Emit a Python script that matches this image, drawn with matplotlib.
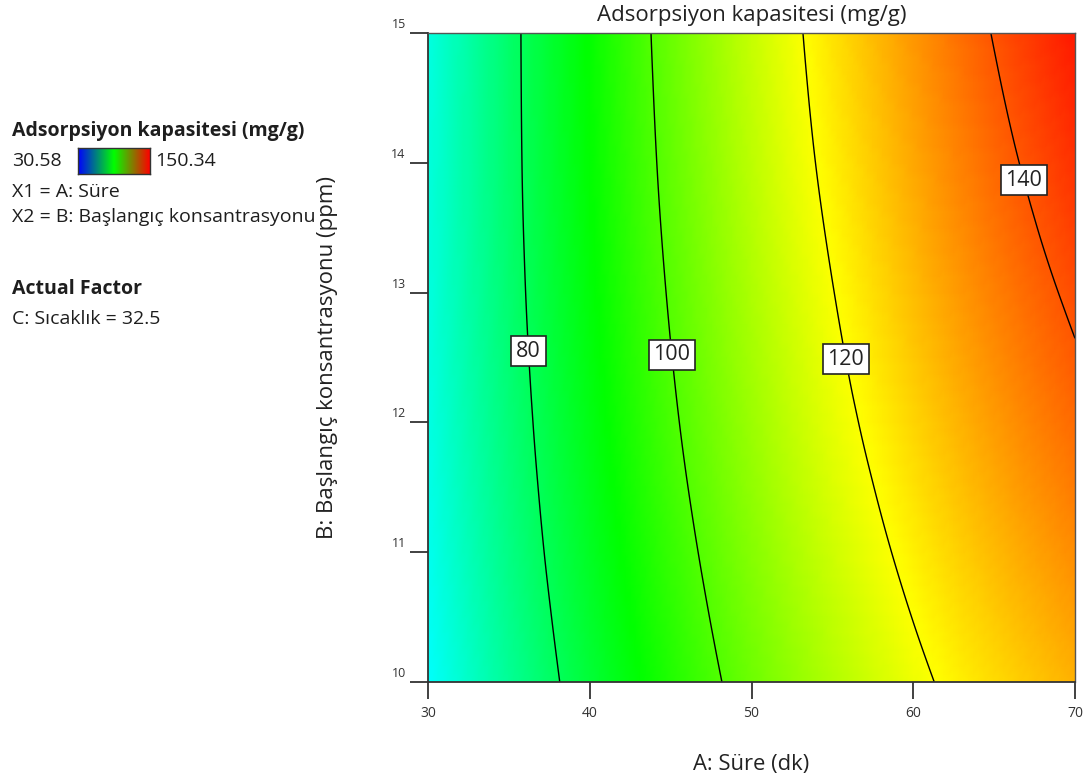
import numpy as np
import matplotlib
matplotlib.use("Agg")
import matplotlib.pyplot as plt
import matplotlib.tri as mtri
from matplotlib.colors import LinearSegmentedColormap
from matplotlib.transforms import ScaledTranslation

plt.rcParams['font.family'] = ['Open Sans', 'DejaVu Sans']

# ---------------- data ----------------
time_min = [30, 35, 40, 45, 50, 55, 60, 65, 70]          # A: Süre (dk)
conc_ppm = [10, 11, 12, 13, 14, 15]                      # B: Başlangıç konsantrasyonu (ppm)
# Adsorpsiyon kapasitesi (mg/g) estimated on the grid, one row per B level
q_b10 = [60.9, 72.9, 84.0, 94.1, 103.2, 111.2, 118.3, 124.4, 129.4]
q_b11 = [62.5, 74.9, 86.3, 96.7, 106.1, 114.5, 121.9, 128.3, 133.7]
q_b12 = [63.6, 76.4, 88.1, 98.9, 108.6, 117.4, 125.1, 131.9, 137.7]
q_b13 = [64.3, 77.4, 89.5, 100.6, 110.7, 119.8, 128.0, 135.1, 141.2]
q_b14 = [64.4, 77.9, 90.4, 101.9, 112.4, 121.9, 130.4, 137.9, 144.4]
q_b15 = [64.1, 78.0, 90.9, 102.8, 113.6, 123.5, 132.4, 140.3, 147.2]
contour_levels = [80, 100, 120, 140]
x_ticks = [30, 40, 50, 60, 70]
y_ticks = [10, 11, 12, 13, 14, 15]
q_min, q_max = 30.58, 150.34

title = "Adsorpsiyon kapasitesi (mg/g)"
xlabel = "A: Süre (dk)"
ylabel = "B: Başlangıç konsantrasyonu (ppm)"

# ---------------- figure ----------------
W, H = 1086, 783
fig = plt.figure(figsize=(W / 100, H / 100), dpi=100)
ax = fig.add_axes([428 / W, 1 - 682 / H, 647 / W, 649 / H])

Z = np.array([q_b10, q_b11, q_b12, q_b13, q_b14, q_b15])
X, Y = np.meshgrid(time_min, conc_ppm)
nx, ny = len(time_min), len(conc_ppm)
tris = []
for j in range(ny - 1):
    for i in range(nx - 1):
        a = j * nx + i
        b = a + 1
        c = a + nx
        d = c + 1
        tris += [[a, b, d], [a, d, c]]
x0, xs = min(time_min), max(time_min) - min(time_min)
y0, ys = min(conc_ppm), max(conc_ppm) - min(conc_ppm)
tri_n = mtri.Triangulation((X.ravel() - x0) / xs, (Y.ravel() - y0) / ys, tris)
refiner = mtri.UniformTriRefiner(tri_n)
tri_r, z_r = refiner.refine_field(Z.ravel(), subdiv=4)
tri_p = mtri.Triangulation(tri_r.x * xs + x0, tri_r.y * ys + y0, tri_r.triangles)

cmap = LinearSegmentedColormap.from_list(
    "de", [(0.0, "#0000ff"), (0.25, "#00ffff"), (0.5, "#00ff00"),
           (0.75, "#ffff00"), (1.0, "#ff0000")])
ax.tripcolor(tri_p, z_r, shading="gouraud", cmap=cmap, vmin=q_min, vmax=q_max)
cs = ax.tricontour(tri_p, z_r, levels=contour_levels, colors="black", linewidths=1.0)

label_pos = [(36.24, 12.55), (45.12, 12.52), (55.97, 12.49), (67.09, 13.875)]
ax.clabel(cs, levels=contour_levels, inline=False, fmt="%d", fontsize=15.5,
          colors="#222222", manual=label_pos)
for t in cs.labelTexts:
    t.set_rotation(0)
    t.set_bbox(dict(boxstyle="square,pad=0.22", fc="white", ec="#222222", lw=1.2))
    t.set_zorder(6)

ax.set_xlim(30, 70)
ax.set_ylim(10, 15)
ax.set_xticks(x_ticks)
ax.set_yticks(y_ticks)
ax.tick_params(axis="x", direction="out", length=12, width=1.3, labelsize=10,
               pad=5.0, labelcolor="#333333", color="#333333")
ax.tick_params(axis="y", direction="out", length=13, width=1.3, labelsize=9,
               pad=3.0, labelcolor="#333333", color="#333333")
for lbl in ax.get_yticklabels():
    lbl.set_va("baseline")
    lbl.set_transform(lbl.get_transform() + ScaledTranslation(0, 5 / 100, fig.dpi_scale_trans))

for side in ["left", "bottom"]:
    ax.spines[side].set_color("#333333")
    ax.spines[side].set_linewidth(1.3)
for side in ["top", "right"]:
    ax.spines[side].set_color("#555555")
    ax.spines[side].set_linewidth(1.0)

ax.set_title(title, fontsize=16, pad=8.5, color="#222222")
ax.set_xlabel(xlabel, fontsize=15.8, color="#222222", va="baseline")
ax.xaxis.set_label_coords(0.5, -0.1356)
ax.set_ylabel(ylabel, fontsize=16, color="#222222")
ax.yaxis.set_label_coords(-0.139, 0.5)

# ---------------- left-hand legend ----------------
tc = "#1e1e1e"
fs = 14
fig.text(12 / W, 1 - 136 / H, "Adsorpsiyon kapasitesi (mg/g)", fontsize=fs,
         weight="bold", va="baseline", color=tc)
fig.text(12 / W, 1 - 166 / H, f"{q_min:.2f}", fontsize=fs, va="baseline", color=tc)
fig.text(155 / W, 1 - 166 / H, f"{q_max:.2f}", fontsize=fs, va="baseline", color=tc)
fig.text(12 / W, 1 - 197 / H, "X1 = A: Süre", fontsize=fs, va="baseline", color=tc)
fig.text(12 / W, 1 - 222 / H, "X2 = B: Başlangıç konsantrasyonu", fontsize=fs,
         va="baseline", color=tc)
fig.text(12 / W, 1 - 294 / H, "Actual Factor", fontsize=fs, weight="bold",
         va="baseline", color=tc)
fig.text(12 / W, 1 - 324 / H, "C: Sıcaklık = 32.5", fontsize=fs, va="baseline", color=tc)

sw = fig.add_axes([78 / W, 1 - 174 / H, 72 / W, 26 / H])
swatch_cmap = LinearSegmentedColormap.from_list("sw", ["#0000ff", "#00ff00", "#ff0000"])
sw.imshow(np.linspace(0, 1, 256)[None, :], aspect="auto", cmap=swatch_cmap)
sw.set_xticks([])
sw.set_yticks([])
for s in sw.spines.values():
    s.set_color("#333333")
    s.set_linewidth(1.0)

fig.savefig("out.png", dpi=100)
